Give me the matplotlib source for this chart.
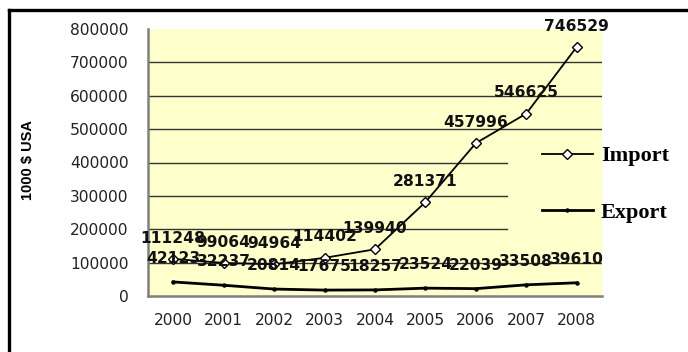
import matplotlib
matplotlib.use("Agg")
import matplotlib.pyplot as plt
from matplotlib.lines import Line2D

years = ["2000", "2001", "2002", "2003", "2004", "2005", "2006", "2007", "2008"]
imports = [111248, 99064, 94964, 114402, 139940, 281371, 457996, 546625, 746529]
exports = [42123, 32237, 20814, 17675, 18257, 23524, 22039, 33508, 39610]
y_ticks = [0, 100000, 200000, 300000, 400000, 500000, 600000, 700000, 800000]
y_label = "1000 $ USA"

W, H = 688, 352
fig = plt.figure(figsize=(W / 100, H / 100), dpi=100)
ax = fig.add_axes([148 / W, 1 - 296 / H, 454 / W, 267 / H])
ax.set_facecolor("#FFFFCC")

x = list(range(len(years)))
ax.set_xlim(-0.5, len(years) - 0.5)
ax.set_ylim(0, 800000)

# horizontal grid; the middle lines stop short where the legend sits
short = 0.79
for v in y_ticks[1:-1]:
    xmax = short if v in (200000, 300000, 400000) else 1.0
    ax.axhline(v, xmin=0, xmax=xmax, color="#333333", lw=1.0, zorder=1)

ax.plot(x, imports, color="black", lw=1.3, marker="D", markersize=5.5,
        markerfacecolor="white", markeredgecolor="black", markeredgewidth=1.0,
        label="Import", zorder=3)
ax.plot(x, exports, color="black", lw=2.0, marker="o", markersize=2.2,
        label="Export", zorder=3)

lab_font = dict(fontsize=11.2, fontweight="bold", family="DejaVu Sans",
                ha="center", va="center", color="#111111")
for xi, v in zip(x, imports):
    ax.annotate(str(v), (xi, v), xytext=(0, 15), textcoords="offset points",
                annotation_clip=False, zorder=4, **lab_font)
for xi, v in zip(x, exports):
    ax.annotate(str(v), (xi, v), xytext=(0, 17), textcoords="offset points",
                annotation_clip=False, zorder=4, **lab_font)

ax.set_xticks(x)
ax.set_xticklabels(years)
ax.set_yticks(y_ticks)
ax.set_yticklabels([str(v) for v in y_ticks])
ax.tick_params(axis="both", length=0, labelsize=11.2, colors="#222222")
ax.tick_params(axis="x", pad=12)
ax.tick_params(axis="y", pad=14)
for t in ax.get_xticklabels() + ax.get_yticklabels():
    t.set_family("DejaVu Sans")

for s in ("top", "right"):
    ax.spines[s].set_visible(False)
for s in ("left", "bottom"):
    ax.spines[s].set_color("#7F7F7F")
    ax.spines[s].set_linewidth(1.8)

fig.text(28 / W, 1 - 160 / H, y_label, rotation=90, ha="center", va="center",
         fontsize=10.5, fontweight="bold", family="Liberation Sans")

leg = fig.legend(loc="upper left", bbox_to_anchor=(533 / W, 1 - 137 / H),
                 frameon=False, handlelength=2.3, handletextpad=0.35,
                 labelspacing=1.6, borderaxespad=0,
                 prop={"family": "Liberation Serif", "weight": "bold", "size": 16})

# outer chart border (runs off the right and bottom edges)
fig.add_artist(Line2D([8.5 / W, 8.5 / W], [0, 1 - 10 / H], transform=fig.transFigure,
                      color="black", lw=2.4))
fig.add_artist(Line2D([8.5 / W, 1], [1 - 10 / H, 1 - 10 / H], transform=fig.transFigure,
                      color="black", lw=2.4, solid_capstyle="projecting"))

fig.savefig("out.png", dpi=100)
